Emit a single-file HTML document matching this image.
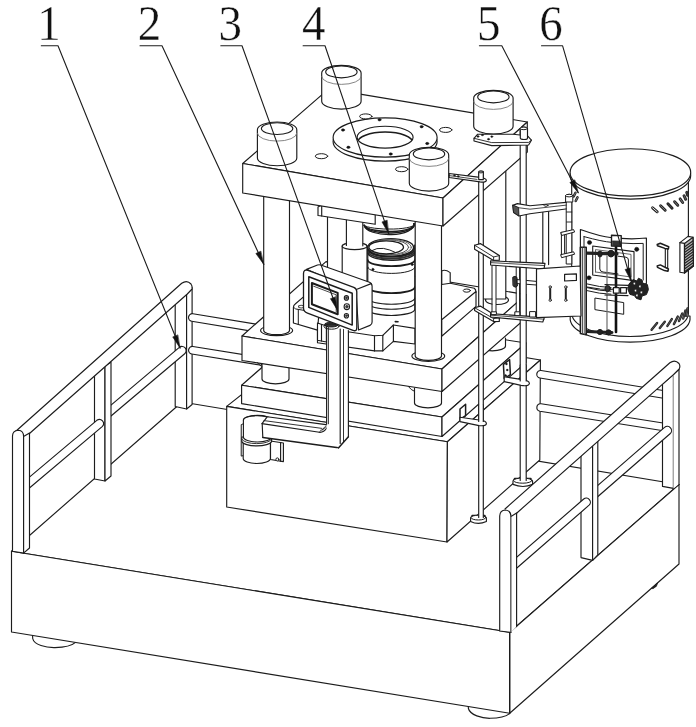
<!DOCTYPE html>
<html lang="en">
<head>
<meta charset="utf-8">
<title>Figure</title>
<style>
html,body{margin:0;padding:0;background:#fff;}
body{width:696px;height:727px;overflow:hidden;position:relative;font-family:"Liberation Serif",serif;}
svg{display:block;position:absolute;left:0;top:0;}
svg text{font-family:"Liberation Serif",serif;fill:#111;}
</style>
</head>
<body>
<svg width="696" height="727" viewBox="0 0 696 727" stroke-linecap="round" stroke-linejoin="round">
<rect x="0" y="0" width="696" height="727" fill="#fff"/>
<!-- platform feet -->
<path d="M32.5,634 L32.7,638.5 C34,645 46,647.8 55,647.6 C65,647.4 72,645.6 75.5,642.4 L76,636 Z" fill="#fff" stroke="#1c1c1c" stroke-width="1.15" />
<path d="M468.2,704 L468.4,708.5 C470,715 482,718.4 490,718.3 C500,718.2 506,716.5 509.6,713.6 L500,700 Z" fill="#fff" stroke="#1c1c1c" stroke-width="1.15" />
<!-- platform -->
<polygon points="11.5,551.2 509.7,632.3 679,484.5 182,402" fill="#fff" stroke="#1c1c1c" stroke-width="1.15"/>
<polygon points="11.5,551.2 509.7,632.3 509.7,713.3 11.5,632" fill="#fff" stroke="#1c1c1c" stroke-width="1.15"/>
<polygon points="509.7,632.3 679,484.5 679,564 509.7,713.3" fill="#fff" stroke="#1c1c1c" stroke-width="1.15"/>
<path d="M651.6,588.2 L657.6,583 L656.4,586.2 L653.4,588.4 Z" fill="#222" stroke="#1c1c1c" stroke-width="0.8" />
<!-- left fence -->
<polygon points="175.2,300 186.6,292 186.6,409 175.2,406.5" fill="#fff" stroke="#1c1c1c" stroke-width="1.15"/>
<polygon points="186.6,292 192.1,287.5 192.1,404.5 186.6,409" fill="#fff" stroke="#1c1c1c" stroke-width="1.15"/>
<path d="M105.68,420.47 L184.68,353.77 A4.15,4.15 0 0 0 179.32,347.43 L100.32,414.13 " fill="#fff" stroke="#1c1c1c" stroke-width="1.15" />
<polygon points="94.5,372 105,366 105,481 94.5,479" fill="#fff" stroke="#1c1c1c" stroke-width="1.15"/>
<polygon points="105,366 111,362 111,476 105,481" fill="#fff" stroke="#1c1c1c" stroke-width="1.15"/>
<path d="M24.67,491.97 L102.17,426.67 A4.15,4.15 0 0 0 96.83,420.33 L19.33,485.63 " fill="#fff" stroke="#1c1c1c" stroke-width="1.15" />
<path d="M15.5,431.5 L181.7,283.3 Q187,279.5 191,284 Q192.6,286 192.1,289 L187.3,294 L29.5,433.5 Z" fill="#fff" stroke="#1c1c1c" stroke-width="0" />
<path d="M15.5,431.5 L181.7,283.3 Q187,279.5 191,284 Q192.6,286 192.1,289 L187.3,294 L29.5,433.5" fill="none" stroke="#1c1c1c" stroke-width="1.15" />
<path d="M12.5,551.2 L12.5,436 Q12.6,430.4 18.4,430.2 Q23.6,430.6 23.6,436.5 L23.6,553.1 Z" fill="#fff" stroke="#1c1c1c" stroke-width="1.15" />
<polygon points="23.6,436.5 29.5,433 29.5,548 23.6,553.1" fill="#fff" stroke="#1c1c1c" stroke-width="1.15"/>
<!-- back rails left -->
<path d="M191.68,321.25 L261.38,332.75 L262.62,325.25 L192.92,313.75 A3.8,3.8 0 0 0 191.68,321.25 Z" fill="#fff" stroke="#1c1c1c" stroke-width="1.15" />
<path d="M191.69,353.95 L261.39,365.25 L262.61,357.75 L192.91,346.45 A3.8,3.8 0 0 0 191.69,353.95 Z" fill="#fff" stroke="#1c1c1c" stroke-width="1.15" />
<!-- base box -->
<polygon points="226.7,406.4 447.4,441.8 540.4,360 330,325" fill="#fff" stroke="#1c1c1c" stroke-width="1.15"/>
<polygon points="226.7,406.4 447.4,441.8 447,542 226.7,507" fill="#fff" stroke="#1c1c1c" stroke-width="1.15"/>
<polygon points="447.4,441.8 540.4,360 539.8,460 447,542" fill="#fff" stroke="#1c1c1c" stroke-width="1.15"/>
<!-- back rails right -->
<path d="M539.89,378.05 L663.39,398.25 L664.61,390.75 L541.11,370.55 A3.8,3.8 0 0 0 539.89,378.05 Z" fill="#fff" stroke="#1c1c1c" stroke-width="1.15" />
<path d="M539.91,411.25 L663.41,430.75 L664.59,423.25 L541.09,403.75 A3.8,3.8 0 0 0 539.91,411.25 Z" fill="#fff" stroke="#1c1c1c" stroke-width="1.15" />
<!-- plate A -->
<polygon points="241.6,385.2 442,417 526,343 325.5,312" fill="#fff" stroke="#1c1c1c" stroke-width="1.15"/>
<polygon points="241.6,385.2 442,417 442,436.5 241.6,403.6" fill="#fff" stroke="#1c1c1c" stroke-width="1.15"/>
<polygon points="442,417 526,343 526,362.5 442,436.5" fill="#fff" stroke="#1c1c1c" stroke-width="1.15"/>
<path d="M262,362 L262,379 A13.5,4.8 0 0 0 289,379 L289,362" fill="#fff" stroke="#1c1c1c" stroke-width="1.15" />
<path d="M414.5,388 L414.5,403 A13.5,4.8 0 0 0 441.5,403 L441.5,388" fill="#fff" stroke="#1c1c1c" stroke-width="1.15" />
<path d="M479,338 L479,346 A13.25,4.8 0 0 0 505.5,346 L505.5,338" fill="#fff" stroke="#1c1c1c" stroke-width="1.15" />
<!-- plate B -->
<polygon points="242,336 442,369 526,294.6 326,261.6" fill="#fff" stroke="#1c1c1c" stroke-width="1.15"/>
<polygon points="242,336 442,369 442,391.5 242,360.5" fill="#fff" stroke="#1c1c1c" stroke-width="1.15"/>
<polygon points="442,369 526,294.6 526,318 442,391.5" fill="#fff" stroke="#1c1c1c" stroke-width="1.15"/>
<path d="M257.4,362.6 Q259.4,365.6 262,366.6" fill="none" stroke="#1c1c1c" stroke-width="1" />
<path d="M408.4,386.6 Q411,390 414.5,391.4" fill="none" stroke="#1c1c1c" stroke-width="1" />
<!-- die holder -->
<polygon points="450.2,283.3 474.3,288.3 476,292 441.7,319.8 415,328.4 415,300" fill="#fff" stroke="#1c1c1c" stroke-width="0"/>
<path d="M450.2,283.3 L474.3,288.3 Q476,289.5 476,292.3" fill="none" stroke="#1c1c1c" stroke-width="1.15" />
<polygon points="441.7,319.8 476,291.5 476,306.4 441.7,336.2" fill="#fff" stroke="#1c1c1c" stroke-width="1.15"/>
<ellipse cx="466.8" cy="290.6" rx="3.6" ry="1.6" fill="#fff" stroke="#1c1c1c" stroke-width="1" />
<path d="M441.7,284.5 L441.7,271 Q445,269 450.2,272.6 L450.2,283.3 Z" fill="#fff" stroke="#1c1c1c" stroke-width="1.15" />
<path d="M293.4,323 L293.4,307.6 Q293.4,305.3 295.2,304 L303.8,296.6 L320,301 L317.5,330.1 Z" fill="#fff" stroke="#1c1c1c" stroke-width="1.15" />
<line x1="298.3" y1="309.4" x2="298.3" y2="324.4" stroke="#1c1c1c" stroke-width="1"/>
<path d="M293.6,307.4 Q295.5,309.6 298.3,309.4 L304,310.4" fill="none" stroke="#1c1c1c" stroke-width="1" />
<ellipse cx="301.2" cy="306.6" rx="2.7" ry="1.4" fill="#fff" stroke="#444" stroke-width="1.1" />
<polygon points="317.5,327.3 374.5,335.7 382.8,335.3 393.4,325 415,328.4 415,344 393.4,341.4 382.8,350.9 374.5,350.9 317.5,342.7" fill="#fff" stroke="#1c1c1c" stroke-width="1.15"/>
<polyline points="374.5,335.7 374.5,350.9" fill="none" stroke="#1c1c1c" stroke-width="1.15"/>
<polyline points="382.8,335.3 382.8,350.9" fill="none" stroke="#1c1c1c" stroke-width="1.15"/>
<polyline points="393.4,325 393.4,341.4" fill="none" stroke="#1c1c1c" stroke-width="1.15"/>
<line x1="395.3" y1="321.6" x2="398" y2="321.8" stroke="#1c1c1c" stroke-width="1.6"/>
<!-- lower die -->
<path d="M367.8,248 L367.8,309.3 A23.5,6.2 0 0 0 414.8,309.3 L414.8,248 Z" fill="#fff" stroke="#1c1c1c" stroke-width="1.15" />
<path d="M367.8,260 A23.5,6.2 0 0 0 414.8,260" fill="none" stroke="#1c1c1c" stroke-width="1.7" />
<path d="M367.8,267.2 A23.5,6.2 0 0 0 414.8,267.2" fill="none" stroke="#1c1c1c" stroke-width="1" />
<path d="M367.8,287 A23.5,6.2 0 0 0 414.8,287" fill="none" stroke="#1c1c1c" stroke-width="1.7" />
<path d="M367.8,298.1 A23.5,6.2 0 0 0 414.8,298.1" fill="none" stroke="#1c1c1c" stroke-width="1.1" />
<path d="M367.8,303.1 A23.5,6.2 0 0 0 414.8,303.1" fill="none" stroke="#1c1c1c" stroke-width="1.1" />
<path d="M367.8,246.4 A23.5,7.6 0 0 0 414.8,245.2" fill="none" stroke="#222" stroke-width="1.5" />
<path d="M367.8,248 A23.5,7.6 0 0 0 414.8,246.8" fill="none" stroke="#333" stroke-width="1.8" />
<path d="M367.8,249.8 A23.5,7.6 0 0 0 414.8,248.6" fill="none" stroke="#222" stroke-width="1.9" />
<path d="M367.8,251.6 A23.5,7.6 0 0 0 414.8,250.4" fill="none" stroke="#333" stroke-width="1.8" />
<path d="M367.8,253.2 A23.5,7.6 0 0 0 414.8,252" fill="none" stroke="#222" stroke-width="1.4" />
<ellipse cx="372.9" cy="269.4" rx="1.1" ry="1.2" fill="#111" stroke="#1c1c1c" stroke-width="0.5" />
<ellipse cx="412.2" cy="264.4" rx="1.1" ry="1.2" fill="#111" stroke="#1c1c1c" stroke-width="0.5" />
<ellipse cx="390.7" cy="247.4" rx="22.9" ry="8.8" fill="#fff" stroke="#1c1c1c" stroke-width="1.4" />
<ellipse cx="390.1" cy="247.3" rx="21.2" ry="8" fill="none" stroke="#666" stroke-width="1" />
<ellipse cx="389.1" cy="247.3" rx="19.6" ry="7.4" fill="none" stroke="#555" stroke-width="1" />
<ellipse cx="386.2" cy="247.3" rx="17.3" ry="6.5" fill="#fff" stroke="#1c1c1c" stroke-width="1.3" />
<path d="M370.4,251.2 Q377,247.4 383.4,248.4 Q390,249.6 395.4,252.4" fill="none" stroke="#1c1c1c" stroke-width="1" />
<!-- back columns -->
<ellipse cx="497" cy="300" rx="11.5" ry="4.5" fill="#fff" stroke="#1c1c1c" stroke-width="1.15" />
<polygon points="480.5,160 505.8,160 505.8,299 480.5,299" fill="#fff" stroke="#1c1c1c" stroke-width="1.15"/>
<polygon points="327.5,200 354,200 354,290 327.5,290" fill="#fff" stroke="#1c1c1c" stroke-width="1.15"/>
<!-- ram -->
<path d="M342.2,246.2 L342.2,281 A12.4,3.4 0 0 0 367,281 L367,246.2 A12.4,3.4 0 0 0 342.2,246.2 Z" fill="#fff" stroke="#1c1c1c" stroke-width="1.15" />
<ellipse cx="354.6" cy="246.2" rx="12.4" ry="3.4" fill="#fff" stroke="#1c1c1c" stroke-width="1.15" />
<polygon points="346.4,215 362.8,215 362.8,245.6 346.4,245.6" fill="#fff" stroke="#1c1c1c" stroke-width="0"/>
<line x1="346.4" y1="218" x2="346.4" y2="245.4" stroke="#1c1c1c" stroke-width="1.15"/>
<line x1="362.8" y1="220" x2="362.8" y2="245.8" stroke="#1c1c1c" stroke-width="1.15"/>
<!-- upper die -->
<path d="M364.2,214 L364.2,225.5 A24.9,10 0 0 0 414,223.5 L414,214 Z" fill="#fff" stroke="#1c1c1c" stroke-width="0" />
<path d="M364.2,225.3 A24.9,4.6 0 0 0 414,223.6" fill="none" stroke="#1c1c1c" stroke-width="1" />
<path d="M364.2,225.3 A24.9,7 0 0 0 414,223.6" fill="none" stroke="#1c1c1c" stroke-width="1.4" />
<path d="M364.2,225.3 A24.9,8.6 0 0 0 414,223.6" fill="none" stroke="#1c1c1c" stroke-width="1.5" />
<path d="M364.2,225.3 A24.9,10.2 0 0 0 414,223.6" fill="none" stroke="#1c1c1c" stroke-width="1.3" />
<!-- bracket plate under top plate -->
<polygon points="318,207 321.7,205 375.2,214 375.2,224.3 321.7,216 318,215.5" fill="#fff" stroke="#1c1c1c" stroke-width="1.15"/>
<line x1="321.7" y1="206" x2="321.7" y2="216" stroke="#1c1c1c" stroke-width="1.15"/>
<!-- front columns -->
<ellipse cx="276.6" cy="330.5" rx="16" ry="5.2" fill="#fff" stroke="#1c1c1c" stroke-width="1.15" />
<ellipse cx="428.3" cy="356" rx="16.4" ry="5.4" fill="#fff" stroke="#1c1c1c" stroke-width="1.15" />
<path d="M263.7,190 L263.7,330.5 A12.9,4.2 0 0 0 289.5,330.5 L289.5,190" fill="#fff" stroke="#1c1c1c" stroke-width="1.15" />
<path d="M415.2,215 L415.2,356 A13.15,4.4 0 0 0 441.5,356 L441.5,215" fill="#fff" stroke="#1c1c1c" stroke-width="1.15" />
<!-- top plate -->
<polygon points="242.7,163.5 443,198 527.3,122 328.7,88.9" fill="#fff" stroke="#1c1c1c" stroke-width="1.15"/>
<polygon points="242.7,163.5 443,198 443,226 242.7,193" fill="#fff" stroke="#1c1c1c" stroke-width="1.15"/>
<polygon points="443,198 527.3,122 527.3,152 443,226" fill="#fff" stroke="#1c1c1c" stroke-width="1.15"/>
<!-- flange -->
<ellipse cx="385.1" cy="141.5" rx="52" ry="19.6" fill="#fff" stroke="#1c1c1c" stroke-width="1.15" />
<ellipse cx="385.1" cy="137.5" rx="52" ry="19.6" fill="#fff" stroke="#1c1c1c" stroke-width="1.15" />
<ellipse cx="385.1" cy="137.2" rx="28" ry="10.9" fill="#fff" stroke="#1c1c1c" stroke-width="1.15" />
<clipPath id="cflange"><ellipse cx="385.1" cy="137.2" rx="28" ry="10.9"/></clipPath>
<ellipse cx="385.1" cy="143" rx="27.8" ry="10.9" fill="none" stroke="#1c1c1c" stroke-width="1.5" clip-path="url(#cflange)"/>
<ellipse cx="379.5" cy="119.8" rx="1.6" ry="1.2" fill="#111" stroke="#1c1c1c" stroke-width="0.5" />
<ellipse cx="421.6" cy="126.7" rx="1.6" ry="1.2" fill="#111" stroke="#1c1c1c" stroke-width="0.5" />
<ellipse cx="427.2" cy="143.5" rx="1.6" ry="1.2" fill="#111" stroke="#1c1c1c" stroke-width="0.5" />
<ellipse cx="390.7" cy="154" rx="1.6" ry="1.2" fill="#111" stroke="#1c1c1c" stroke-width="0.5" />
<ellipse cx="348.4" cy="147.3" rx="1.6" ry="1.2" fill="#111" stroke="#1c1c1c" stroke-width="0.5" />
<ellipse cx="343" cy="130" rx="1.6" ry="1.2" fill="#111" stroke="#1c1c1c" stroke-width="0.5" />
<ellipse cx="365.8" cy="116.4" rx="6.2" ry="2.5" fill="#fff" stroke="#1c1c1c" stroke-width="1" />
<ellipse cx="445.7" cy="129.9" rx="6.2" ry="2.5" fill="#fff" stroke="#1c1c1c" stroke-width="1" />
<ellipse cx="401.7" cy="169.2" rx="6.2" ry="2.5" fill="#fff" stroke="#1c1c1c" stroke-width="1" />
<ellipse cx="321.5" cy="156.2" rx="6.2" ry="2.5" fill="#fff" stroke="#1c1c1c" stroke-width="1" />
<!-- top cylinders -->
<path d="M321.7,73.1 L321.7,101.3 A19.7,7.8 0 0 0 361.1,101.3 L361.1,73.1 A19.7,7.8 0 0 0 321.7,73.1 Z" fill="#fff" stroke="#1c1c1c" stroke-width="1.15" />
<path d="M321.7,76.6 A19.7,7.8 0 0 0 361.1,76.6" fill="none" stroke="#777" stroke-width="0.9" />
<ellipse cx="341.4" cy="71.9" rx="15.7" ry="5.9" fill="#fff" stroke="#1c1c1c" stroke-width="1.15" />
<path d="M473.7,98.1 L473.7,126.3 A19.7,7.8 0 0 0 513.1,126.3 L513.1,98.1 A19.7,7.8 0 0 0 473.7,98.1 Z" fill="#fff" stroke="#1c1c1c" stroke-width="1.15" />
<path d="M473.7,101.6 A19.7,7.8 0 0 0 513.1,101.6" fill="none" stroke="#777" stroke-width="0.9" />
<ellipse cx="493.4" cy="96.9" rx="15.7" ry="5.9" fill="#fff" stroke="#1c1c1c" stroke-width="1.15" />
<path d="M257.4,129.8 L257.4,158 A19.7,7.8 0 0 0 296.8,158 L296.8,129.8 A19.7,7.8 0 0 0 257.4,129.8 Z" fill="#fff" stroke="#1c1c1c" stroke-width="1.15" />
<path d="M257.4,133.3 A19.7,7.8 0 0 0 296.8,133.3" fill="none" stroke="#777" stroke-width="0.9" />
<ellipse cx="277.1" cy="128.6" rx="15.7" ry="5.9" fill="#fff" stroke="#1c1c1c" stroke-width="1.15" />
<path d="M409.3,155.1 L409.3,183.3 A19.7,7.8 0 0 0 448.7,183.3 L448.7,155.1 A19.7,7.8 0 0 0 409.3,155.1 Z" fill="#fff" stroke="#1c1c1c" stroke-width="1.15" />
<path d="M409.3,158.6 A19.7,7.8 0 0 0 448.7,158.6" fill="none" stroke="#777" stroke-width="0.9" />
<ellipse cx="429" cy="153.9" rx="15.7" ry="5.9" fill="#fff" stroke="#1c1c1c" stroke-width="1.15" />
<!-- hinge and arm -->
<polygon points="270.5,441 283.4,443 283.4,461.6 270.5,459.5" fill="#fff" stroke="#1c1c1c" stroke-width="1.15"/>
<line x1="280.6" y1="442.6" x2="280.6" y2="461.2" stroke="#1c1c1c" stroke-width="1.15"/>
<ellipse cx="277.4" cy="459.4" rx="1.5" ry="1.5" fill="#fff" stroke="#1c1c1c" stroke-width="1" />
<polygon points="241.6,424.5 244,423.5 244,455.5 241.6,456" fill="#fff" stroke="#1c1c1c" stroke-width="1"/>
<path d="M243.2,441 L243.2,458.5 A13.6,5 0 0 0 270.4,458.5 L270.4,441" fill="#fff" stroke="#1c1c1c" stroke-width="1.15" />
<path d="M241.8,437 L241.8,441.5 A15,5 0 0 0 271.6,441.5 L271.6,437 Z" fill="#fff" stroke="#1c1c1c" stroke-width="1.15" />
<path d="M241.8,439.2 A15,5 0 0 0 271.6,439.2" fill="none" stroke="#1c1c1c" stroke-width="0.9" />
<path d="M243.4,420 L243.4,437 A14,5 0 0 0 271.4,437 L271.4,420 A14,4.6 0 0 0 243.4,420 Z" fill="#fff" stroke="#1c1c1c" stroke-width="1.15" />
<path d="M243.4,420 A14,4.6 0 0 1 266,416.6" fill="none" stroke="#1c1c1c" stroke-width="1.15" />
<path d="M262,423.6 L267.2,416.8 L326,424.6 L348.4,428 L348.4,436.8 L338.4,447.9 L262.8,437.4 Z" fill="#fff" stroke="#1c1c1c" stroke-width="0" />
<path d="M262,423.6 L267.2,416.8 L326,424.6" fill="none" stroke="#1c1c1c" stroke-width="1.15" />
<line x1="262" y1="423.6" x2="319.4" y2="432.2" stroke="#1c1c1c" stroke-width="1.15"/>
<line x1="262.2" y1="424" x2="262.8" y2="437.4" stroke="#1c1c1c" stroke-width="1.15"/>
<path d="M262.8,437.4 L336.6,447.6 Q339.8,447.4 340.2,443.2" fill="none" stroke="#1c1c1c" stroke-width="1.5" />
<line x1="264" y1="420.6" x2="322" y2="428.4" stroke="#1c1c1c" stroke-width="0.9"/>
<path d="M319.4,432.2 Q323.6,432.6 326.8,428 Q328.4,425.4 328.2,423.6" fill="none" stroke="#1c1c1c" stroke-width="1.3" />
<path d="M320.6,430.4 Q323.6,430.2 325.6,427 Q326.6,425.2 326.6,424.4" fill="none" stroke="#1c1c1c" stroke-width="0.9" />
<line x1="322.4" y1="430" x2="324.6" y2="427" stroke="#1c1c1c" stroke-width="0.8"/>
<polygon points="326.6,327 348.4,330.5 348.4,436.8 338.4,447.9 326.6,432" fill="#fff" stroke="#1c1c1c" stroke-width="0"/>
<line x1="326.6" y1="327" x2="326.6" y2="424.2" stroke="#1c1c1c" stroke-width="1.15"/>
<line x1="328.4" y1="327.5" x2="328.4" y2="423.8" stroke="#1c1c1c" stroke-width="0.9"/>
<line x1="340.2" y1="329" x2="340.2" y2="443.4" stroke="#1c1c1c" stroke-width="1.15"/>
<line x1="343.5" y1="329.5" x2="343.5" y2="442.2" stroke="#1c1c1c" stroke-width="0.9"/>
<line x1="348.4" y1="330.5" x2="348.4" y2="436.8" stroke="#1c1c1c" stroke-width="1.15"/>
<polyline points="338.4,447.9 348.4,436.8" fill="none" stroke="#1c1c1c" stroke-width="1.5"/>
<!-- controller -->
<path d="M317.5,323 L317.5,340.3 L326.4,342 L326.4,326 Z" fill="#fff" stroke="#1c1c1c" stroke-width="1.15" />
<line x1="321.5" y1="324.5" x2="321.5" y2="341" stroke="#1c1c1c" stroke-width="1.15"/>
<ellipse cx="331.5" cy="324.6" rx="7" ry="2.4" fill="#333" stroke="#1c1c1c" stroke-width="1" />
<ellipse cx="331.5" cy="326.6" rx="7.5" ry="2.6" fill="none" stroke="#1c1c1c" stroke-width="1" />
<path d="M306.5,269.4 L317.5,265 Q319.5,264.4 321.5,265.2 L369.5,282.3 Q372.1,283.5 372.1,286.3 L372.1,322 Q372.1,324.6 370,325.4 L358.5,330 L356,291 Z" fill="#fff" stroke="#1c1c1c" stroke-width="1.15" />
<path d="M303.5,273.5 Q303.5,269 308,270.3 L353.8,287.3 Q356.8,288.6 356.8,291.8 L356.8,327.6 Q356.8,331.8 353,330.4 L307.5,313.2 Q303.5,311.6 303.5,308 Z" fill="#fff" stroke="#1c1c1c" stroke-width="1.3" />
<path d="M356.3,289.5 L371.2,283.6" fill="none" stroke="#1c1c1c" stroke-width="1.15" />
<polygon points="308.8,276.7 352.2,293.3 352.2,325.1 308.8,307.4" fill="#fff" stroke="#1c1c1c" stroke-width="1.5"/>
<polygon points="311.9,283 337.7,292.9 337.7,314.2 311.9,304.3" fill="#fff" stroke="#1c1c1c" stroke-width="2"/>
<polyline points="313.6,286.2 336.2,294.8 336.2,311.6" fill="none" stroke="#1c1c1c" stroke-width="0.8"/>
<ellipse cx="346.4" cy="297.9" rx="2.1" ry="2.268" fill="#fff" stroke="#1c1c1c" stroke-width="1.1" />
<ellipse cx="346.4" cy="297.9" rx="0.945" ry="1.05" fill="#444" stroke="#1c1c1c" stroke-width="0.6" />
<ellipse cx="346.8" cy="306.7" rx="2.7" ry="2.916" fill="#fff" stroke="#1c1c1c" stroke-width="1.1" />
<ellipse cx="346.8" cy="306.7" rx="1.215" ry="1.35" fill="#444" stroke="#1c1c1c" stroke-width="0.6" />
<ellipse cx="346.4" cy="315.7" rx="2.1" ry="2.268" fill="#fff" stroke="#1c1c1c" stroke-width="1.1" />
<ellipse cx="346.4" cy="315.7" rx="0.945" ry="1.05" fill="#444" stroke="#1c1c1c" stroke-width="0.6" />
<!-- barrel -->
<path d="M570.2,316 L570.2,319.8 A60,23.7 0 0 0 690,319.8 L690,316 Z" fill="#fff" stroke="#1c1c1c" stroke-width="1.15" />
<path d="M571.7,176 L571.7,314 A58.4,23.5 0 0 0 688.4,314 L688.4,176 Z" fill="#fff" stroke="#1c1c1c" stroke-width="1.15" />
<ellipse cx="630.4" cy="175.4" rx="60.3" ry="23.7" fill="#fff" stroke="#1c1c1c" stroke-width="1.15" />
<ellipse cx="630.4" cy="172.4" rx="60.3" ry="23.7" fill="#fff" stroke="#1c1c1c" stroke-width="1.15" />
<line x1="652.6" y1="207.8" x2="657.2" y2="211.8" stroke="#222" stroke-width="2.9" stroke-linecap="round"/>
<line x1="652.6" y1="207.8" x2="657.2" y2="211.8" stroke="#fff" stroke-width="0.9" stroke-linecap="round"/>
<line x1="660.6" y1="205.7" x2="665.2" y2="210.2" stroke="#222" stroke-width="2.9" stroke-linecap="round"/>
<line x1="660.6" y1="205.7" x2="665.2" y2="210.2" stroke="#888" stroke-width="0.9" stroke-linecap="round"/>
<line x1="667.9" y1="203.7" x2="672.1" y2="208.2" stroke="#222" stroke-width="2.9" stroke-linecap="round"/>
<line x1="667.9" y1="203.7" x2="672.1" y2="208.2" stroke="#444" stroke-width="0.9" stroke-linecap="round"/>
<line x1="674.6" y1="201.7" x2="677.8" y2="205.3" stroke="#222" stroke-width="2.9" stroke-linecap="round"/>
<line x1="674.6" y1="201.7" x2="677.8" y2="205.3" stroke="#888" stroke-width="0.9" stroke-linecap="round"/>
<line x1="680.1" y1="198.9" x2="682.7" y2="202.5" stroke="#222" stroke-width="2.9" stroke-linecap="round"/>
<line x1="680.1" y1="198.9" x2="682.7" y2="202.5" stroke="#888" stroke-width="0.9" stroke-linecap="round"/>
<line x1="684" y1="195.7" x2="685.7" y2="199.3" stroke="#222" stroke-width="2.9" stroke-linecap="round"/>
<line x1="684" y1="195.7" x2="685.7" y2="199.3" stroke="#666" stroke-width="0.9" stroke-linecap="round"/>
<line x1="686.7" y1="192.3" x2="687.6" y2="195.3" stroke="#222" stroke-width="2.9" stroke-linecap="round"/>
<line x1="686.7" y1="192.3" x2="687.6" y2="195.3" stroke="#444" stroke-width="0.9" stroke-linecap="round"/>
<line x1="573.7" y1="196.4" x2="575.5" y2="192.8" stroke="#222" stroke-width="2.5" stroke-linecap="round"/>
<line x1="573.7" y1="196.4" x2="575.5" y2="192.8" stroke="#999" stroke-width="0.7" stroke-linecap="round"/>
<line x1="575.7" y1="201" x2="577.5" y2="197.4" stroke="#222" stroke-width="2.5" stroke-linecap="round"/>
<line x1="575.7" y1="201" x2="577.5" y2="197.4" stroke="#999" stroke-width="0.7" stroke-linecap="round"/>
<line x1="651.6" y1="329.8" x2="657.1" y2="323" stroke="#222" stroke-width="2.4" stroke-linecap="round"/>
<line x1="651.6" y1="329.8" x2="657.1" y2="323" stroke="#777" stroke-width="0.6" stroke-linecap="round"/>
<line x1="659.8" y1="328.1" x2="664.8" y2="321.7" stroke="#222" stroke-width="2.4" stroke-linecap="round"/>
<line x1="659.8" y1="328.1" x2="664.8" y2="321.7" stroke="#777" stroke-width="0.6" stroke-linecap="round"/>
<line x1="667.4" y1="325.9" x2="671.8" y2="319.1" stroke="#222" stroke-width="2.4" stroke-linecap="round"/>
<line x1="667.4" y1="325.9" x2="671.8" y2="319.1" stroke="#777" stroke-width="0.6" stroke-linecap="round"/>
<line x1="673.9" y1="324.1" x2="677.8" y2="316.6" stroke="#222" stroke-width="2.4" stroke-linecap="round"/>
<line x1="673.9" y1="324.1" x2="677.8" y2="316.6" stroke="#777" stroke-width="0.6" stroke-linecap="round"/>
<line x1="679" y1="321.1" x2="682.3" y2="313.6" stroke="#222" stroke-width="2.4" stroke-linecap="round"/>
<line x1="679" y1="321.1" x2="682.3" y2="313.6" stroke="#777" stroke-width="0.6" stroke-linecap="round"/>
<line x1="683.2" y1="318.5" x2="685.4" y2="310.6" stroke="#222" stroke-width="2.4" stroke-linecap="round"/>
<line x1="683.2" y1="318.5" x2="685.4" y2="310.6" stroke="#777" stroke-width="0.6" stroke-linecap="round"/>
<line x1="686.1" y1="315.9" x2="687.5" y2="308.4" stroke="#222" stroke-width="2.4" stroke-linecap="round"/>
<line x1="686.1" y1="315.9" x2="687.5" y2="308.4" stroke="#777" stroke-width="0.6" stroke-linecap="round"/>
<polygon points="665.3,248 667.7,248.4 667.7,268.6 665.3,268" fill="#fff" stroke="#1c1c1c" stroke-width="1.1"/>
<polygon points="657.2,244.5 660.3,243.3 668.7,246.8 668.4,248.9 664.9,248.4 657.5,245.8" fill="#fff" stroke="#1c1c1c" stroke-width="1.5"/>
<polygon points="657.2,266 660.3,264.9 668.4,269 668,271.2 664.5,270.6 657.5,267.4" fill="#fff" stroke="#1c1c1c" stroke-width="1.5"/>
<polygon points="679.9,242.6 688,236.4 693,237.2 693.4,266 684.5,273 679.9,272.2" fill="#fff" stroke="#1c1c1c" stroke-width="1.15"/>
<polygon points="684.5,243.4 693,237.2 693.4,266 684.5,273" fill="#bbb" stroke="#1c1c1c" stroke-width="1.2"/>
<polyline points="679.9,242.6 684.5,243.4 684.5,273" fill="none" stroke="#1c1c1c" stroke-width="1.15"/>
<line x1="685.2" y1="246.4" x2="692.8" y2="241" stroke="#222" stroke-width="1.25"/>
<line x1="685.2" y1="249.15" x2="692.8" y2="243.75" stroke="#222" stroke-width="1.25"/>
<line x1="685.2" y1="251.9" x2="692.8" y2="246.5" stroke="#222" stroke-width="1.25"/>
<line x1="685.2" y1="254.65" x2="692.8" y2="249.25" stroke="#222" stroke-width="1.25"/>
<line x1="685.2" y1="257.4" x2="692.8" y2="252" stroke="#222" stroke-width="1.25"/>
<line x1="685.2" y1="260.15" x2="692.8" y2="254.75" stroke="#222" stroke-width="1.25"/>
<line x1="685.2" y1="262.9" x2="692.8" y2="257.5" stroke="#222" stroke-width="1.25"/>
<line x1="685.2" y1="265.65" x2="692.8" y2="260.25" stroke="#222" stroke-width="1.25"/>
<line x1="685.2" y1="268.4" x2="692.8" y2="263" stroke="#222" stroke-width="1.25"/>
<line x1="685.2" y1="271.15" x2="692.8" y2="265.75" stroke="#222" stroke-width="1.25"/>
<path d="M580.4,229.5 Q600,236.5 612,237.8 L621,238.4 Q634,239.4 646.4,238 L646.4,283.5 Q620,291 600,289 L580.4,286 Z" fill="#fff" stroke="#1c1c1c" stroke-width="1.15" />
<path d="M584,236.6 Q602,241.6 612,242.4 L621,243 Q634,244 643.2,243.4 L643.2,280" fill="none" stroke="#1c1c1c" stroke-width="1" />
<path d="M584,236.6 L584,248" fill="none" stroke="#1c1c1c" stroke-width="1" />
<ellipse cx="589.5" cy="242.5" rx="2.1" ry="2.1" fill="#111" stroke="#1c1c1c" stroke-width="0.5" />
<ellipse cx="636.7" cy="249.3" rx="2.1" ry="2.1" fill="#111" stroke="#1c1c1c" stroke-width="0.5" />
<ellipse cx="589" cy="277.8" rx="2.1" ry="2.1" fill="#111" stroke="#1c1c1c" stroke-width="0.5" />
<polyline points="592.7,275 592.7,246 634,251.6 634,280.6 592.7,275" fill="none" stroke="#1c1c1c" stroke-width="1.1"/>
<polyline points="595.5,272 595.5,249.6 631,254.4 631,277 595.5,272" fill="none" stroke="#555" stroke-width="0.9"/>
<path d="M599.8,257.4 L599.8,269 Q600,271.6 603,272 L618,274" fill="none" stroke="#1c1c1c" stroke-width="1" />
<path d="M618,256.2 L626,257.2 Q628.4,257.6 628.4,260 L628.4,272" fill="none" stroke="#1c1c1c" stroke-width="1" />
<path d="M586.9,283.9 Q600,287.3 611,287.5" fill="none" stroke="#1c1c1c" stroke-width="1" />
<path d="M586.9,287.6 Q600,291 611,291.2" fill="none" stroke="#1c1c1c" stroke-width="1" />
<path d="M586.9,290.6 Q600,294 611,294.2" fill="none" stroke="#1c1c1c" stroke-width="1" />
<polygon points="595.3,298.1 623.7,302.6 623.7,314.3 595.3,309.7" fill="#fff" stroke="#1c1c1c" stroke-width="1"/>
<line x1="607" y1="256" x2="607" y2="330" stroke="#777" stroke-width="1.3"/>
<line x1="616" y1="246" x2="616" y2="332" stroke="#111" stroke-width="2.6"/>
<line x1="586.5" y1="253.2" x2="617" y2="253.8" stroke="#222" stroke-width="3.2"/>
<polygon points="611.5,235.3 621.2,235.6 621.2,246.3 611.5,246" fill="#fff" stroke="#1c1c1c" stroke-width="1.4"/>
<polygon points="612.6,241 620.2,241.2 620.2,245.6 612.6,245.4" fill="#333" stroke="#1c1c1c" stroke-width="0.8"/>
<ellipse cx="600" cy="254" rx="2.2" ry="3" fill="#222" stroke="#1c1c1c" stroke-width="1" />
<ellipse cx="611" cy="253.6" rx="3" ry="3.4" fill="#222" stroke="#1c1c1c" stroke-width="1" />
<line x1="586.5" y1="331.5" x2="612" y2="332.5" stroke="#222" stroke-width="3"/>
<ellipse cx="600" cy="332" rx="2.6" ry="2.6" fill="#222" stroke="#1c1c1c" stroke-width="1" />
<ellipse cx="608.6" cy="332.4" rx="2.6" ry="2.6" fill="#222" stroke="#1c1c1c" stroke-width="1" />
<polygon points="613.4,287.7 619.2,287.7 619.2,293.2 613.4,293.2" fill="#fff" stroke="#1c1c1c" stroke-width="1.2"/>
<polygon points="620.6,287.7 626.4,287.7 626.4,293.2 620.6,293.2" fill="#fff" stroke="#1c1c1c" stroke-width="1.2"/>
<ellipse cx="607.6" cy="288.6" rx="2.6" ry="3" fill="#333" stroke="#1c1c1c" stroke-width="1" />
<line x1="605" y1="284.6" x2="628" y2="285.4" stroke="#1c1c1c" stroke-width="1.2"/>
<line x1="605" y1="295" x2="628" y2="295.6" stroke="#1c1c1c" stroke-width="1.2"/>
<path d="M629,284 L633,279.6 L637,281 L638.5,278.2 L642,280 L643,283.4 L647.4,284.6 L648.4,289.6 L646.4,294.6 L642,296 L641,299.8 L636.4,298.4 L634.4,295.6 L630,294.4 L628,289.6 Z" fill="#222" stroke="#1c1c1c" stroke-width="1" />
<ellipse cx="634.4" cy="283.6" rx="1.1" ry="1.1" fill="#fff" stroke="#1c1c1c" stroke-width="0.3" />
<ellipse cx="640" cy="286.4" rx="1.1" ry="1.1" fill="#fff" stroke="#1c1c1c" stroke-width="0.3" />
<ellipse cx="635.6" cy="290.6" rx="1.1" ry="1.1" fill="#fff" stroke="#1c1c1c" stroke-width="0.3" />
<ellipse cx="641.4" cy="292.4" rx="1.1" ry="1.1" fill="#fff" stroke="#1c1c1c" stroke-width="0.3" />
<ellipse cx="637" cy="295.4" rx="1.1" ry="1.1" fill="#fff" stroke="#1c1c1c" stroke-width="0.3" />
<polygon points="580.4,247.2 586.2,247.2 586.2,334.7 580.4,333.5" fill="#fff" stroke="#1c1c1c" stroke-width="1.6"/>
<line x1="582.6" y1="248" x2="582.6" y2="334" stroke="#444" stroke-width="1"/>
<line x1="584.4" y1="248" x2="584.4" y2="334" stroke="#666" stroke-width="0.9"/>
<!-- rods and brackets -->
<line x1="542.8" y1="211" x2="542.8" y2="264" stroke="#1c1c1c" stroke-width="1.15"/>
<line x1="548.6" y1="210" x2="548.6" y2="264.6" stroke="#1c1c1c" stroke-width="1.15"/>
<polygon points="492.4,265 496,265 496,313.4 492.4,313.4" fill="#fff" stroke="#1c1c1c" stroke-width="1"/>
<polygon points="516.6,265 519.6,265 519.6,313.4 516.6,313.4" fill="#fff" stroke="#1c1c1c" stroke-width="1"/>
<path d="M513,277 Q515,275.4 517,277.4 L517.4,286 Q515.4,288.6 513.2,286 Z" fill="#333" stroke="#1c1c1c" stroke-width="1" />
<polygon points="517.4,279.6 536.5,281.4 536.5,285 517.4,283.6" fill="#fff" stroke="#1c1c1c" stroke-width="1"/>
<path d="M470.6,518 L472,515.4 L485,515.4 L486.4,518.4 L486.4,521.6 Q478,525.4 470.6,521.4 Z" fill="#fff" stroke="#1c1c1c" stroke-width="1.15" />
<ellipse cx="478.5" cy="517.6" rx="7.4" ry="2.4" fill="#fff" stroke="#1c1c1c" stroke-width="1" />
<path d="M513,481 L514.6,478.4 L531,478.4 L532.6,481.4 L532.6,484.4 Q523,488.6 513,484.4 Z" fill="#fff" stroke="#1c1c1c" stroke-width="1.15" />
<ellipse cx="522.8" cy="480.6" rx="9.2" ry="2.6" fill="#fff" stroke="#1c1c1c" stroke-width="1" />
<polygon points="478.7,172 483.3,172 483.3,517.4 478.7,517.4" fill="#fff" stroke="#1c1c1c" stroke-width="0"/>
<line x1="478.7" y1="172" x2="478.7" y2="517.4" stroke="#1c1c1c" stroke-width="1.15"/>
<line x1="483.3" y1="172" x2="483.3" y2="517.4" stroke="#1c1c1c" stroke-width="1.15"/>
<polygon points="520.2,130 526.2,130 526.2,480.4 520.2,480.4" fill="#fff" stroke="#1c1c1c" stroke-width="0"/>
<line x1="520.2" y1="130" x2="520.2" y2="480.4" stroke="#1c1c1c" stroke-width="1.15"/>
<line x1="526.2" y1="130" x2="526.2" y2="480.4" stroke="#1c1c1c" stroke-width="1.15"/>
<path d="M474,138.3 L477.7,134.2 L513.2,134.2 L520,135 L528,136.4 L531.4,140.2 L528.6,145 L491.7,145.6 L474,141 Z" fill="#fff" stroke="#1c1c1c" stroke-width="1.15" />
<polyline points="474,138.3 491.7,142.6 528.6,142.4 531.4,140.2" fill="none" stroke="#1c1c1c" stroke-width="0.9"/>
<ellipse cx="478" cy="136.4" rx="1.1" ry="0.9" fill="#111" stroke="#1c1c1c" stroke-width="0.4" />
<ellipse cx="482.4" cy="134.9" rx="1.1" ry="0.9" fill="#111" stroke="#1c1c1c" stroke-width="0.4" />
<ellipse cx="488.5" cy="139.2" rx="1.1" ry="0.9" fill="#111" stroke="#1c1c1c" stroke-width="0.4" />
<ellipse cx="491.8" cy="136.6" rx="1.1" ry="0.9" fill="#111" stroke="#1c1c1c" stroke-width="0.4" />
<path d="M520.3,128.4 L520.3,138.2 A3.6,1.3 0 0 0 527.5,138.2 L527.5,128.4 A3.6,1.3 0 0 0 520.3,128.4 Z" fill="#fff" stroke="#1c1c1c" stroke-width="1.15" />
<ellipse cx="523.9" cy="128.4" rx="3.6" ry="1.3" fill="#fff" stroke="#1c1c1c" stroke-width="1" />
<path d="M449.2,173.5 L478,177.1 Q486.4,178 486.4,180.4 Q486.2,182.6 480,181.9 L449.2,177.5 Z" fill="#fff" stroke="#1c1c1c" stroke-width="1.15" />
<line x1="449.2" y1="175.6" x2="477" y2="179.4" stroke="#1c1c1c" stroke-width="0.8"/>
<ellipse cx="454.4" cy="175.3" rx="1" ry="0.8" fill="#111" stroke="#1c1c1c" stroke-width="0.4" />
<ellipse cx="458.2" cy="176.4" rx="1" ry="0.8" fill="#111" stroke="#1c1c1c" stroke-width="0.4" />
<path d="M478.7,179.6 L478.7,172 A2.3,0.9 0 0 1 483.3,172 L483.3,179.6 Z" fill="#fff" stroke="#1c1c1c" stroke-width="1.15" />
<ellipse cx="481" cy="172" rx="2.3" ry="0.9" fill="#fff" stroke="#1c1c1c" stroke-width="1" />
<polygon points="460,409 465.6,404.2 465.6,415.6 460,419.4" fill="#fff" stroke="#1c1c1c" stroke-width="1.5"/>
<path d="M460,417.2 L479,420 Q486.4,420.6 486.4,423.6 Q486,426.4 479,425.6 L460,421.6 Z" fill="#fff" stroke="#1c1c1c" stroke-width="1.15" />
<polygon points="478.7,405 483.3,405 483.3,421.4 478.7,421.4" fill="#fff" stroke="#1c1c1c" stroke-width="0"/>
<line x1="478.7" y1="405" x2="478.7" y2="421.4" stroke="#1c1c1c" stroke-width="1.15"/>
<line x1="483.3" y1="405" x2="483.3" y2="421.4" stroke="#1c1c1c" stroke-width="1.15"/>
<polygon points="503.4,364.4 509.6,359.6 510.4,374.6 504.2,378.6" fill="#fff" stroke="#1c1c1c" stroke-width="1.5"/>
<ellipse cx="506.4" cy="364" rx="0.9" ry="0.9" fill="#111" stroke="#1c1c1c" stroke-width="0.4" />
<ellipse cx="507.2" cy="370" rx="0.9" ry="0.9" fill="#111" stroke="#1c1c1c" stroke-width="0.4" />
<ellipse cx="505.6" cy="375.4" rx="0.9" ry="0.9" fill="#111" stroke="#1c1c1c" stroke-width="0.4" />
<path d="M504.2,376.8 L521,379.4 Q529.6,380.4 529.4,383.6 Q528.6,386.6 521,385.4 L504.2,381.6 Z" fill="#fff" stroke="#1c1c1c" stroke-width="1.15" />
<polygon points="520.2,365 526.2,365 526.2,381 520.2,381" fill="#fff" stroke="#1c1c1c" stroke-width="0"/>
<line x1="520.2" y1="365" x2="520.2" y2="381" stroke="#1c1c1c" stroke-width="1.15"/>
<line x1="526.2" y1="365" x2="526.2" y2="381" stroke="#1c1c1c" stroke-width="1.15"/>
<polygon points="474.6,307.7 480.3,306.1 499.3,318 499.3,321.4 493.6,321.6 474.6,310.6" fill="#fff" stroke="#1c1c1c" stroke-width="1.15"/>
<polyline points="474.6,307.7 493.6,318.6 499.3,318" fill="none" stroke="#1c1c1c" stroke-width="0.9"/>
<line x1="493.6" y1="318.6" x2="493.6" y2="321.6" stroke="#1c1c1c" stroke-width="0.9"/>
<polygon points="490.6,313.6 544.4,317.4 542.8,322 490.6,317" fill="#fff" stroke="#1c1c1c" stroke-width="1.15"/>
<line x1="490.6" y1="315.2" x2="544" y2="319.2" stroke="#1c1c1c" stroke-width="0.8"/>
<polygon points="491.4,311.8 496.4,311.8 496.4,314.6 491.4,314.6" fill="#fff" stroke="#1c1c1c" stroke-width="1"/>
<polygon points="515.2,311.8 519.8,311.8 519.8,315.6 515.2,315.6" fill="#fff" stroke="#1c1c1c" stroke-width="1"/>
<polygon points="530,311.6 535.6,311.6 535.6,317 530,317" fill="#fff" stroke="#1c1c1c" stroke-width="1"/>
<polygon points="474.6,245.2 480.3,243.6 499.3,255.6 499.3,260.2 493.6,260.4 474.6,249.2" fill="#fff" stroke="#1c1c1c" stroke-width="1.15"/>
<polyline points="474.6,245.2 493.6,257 499.3,255.6" fill="none" stroke="#1c1c1c" stroke-width="0.9"/>
<line x1="493.6" y1="257" x2="493.6" y2="260.4" stroke="#1c1c1c" stroke-width="0.9"/>
<polygon points="490.6,260.8 545,263.4 544,269 490.6,265" fill="#fff" stroke="#1c1c1c" stroke-width="1.15"/>
<line x1="490.6" y1="262.6" x2="544.6" y2="265.6" stroke="#1c1c1c" stroke-width="0.8"/>
<path d="M512.8,205.4 L517.4,203.6 L530,205.8 L571.3,201.9 L571.3,208.2 L530,213.7 L519,216 L513.6,212.4 Z" fill="#fff" stroke="#1c1c1c" stroke-width="1.15" />
<polyline points="512.8,205.4 517.6,207.6 518.6,215.6" fill="none" stroke="#1c1c1c" stroke-width="1"/>
<polyline points="517.6,207.6 530,209.2 571,204.6" fill="none" stroke="#1c1c1c" stroke-width="0.8"/>
<path d="M512.8,205.4 L513.6,212.4 L519,216 L518.6,207.8 Z" fill="#555" stroke="#1c1c1c" stroke-width="0.8" />
<ellipse cx="546" cy="205.4" rx="2" ry="0.9" fill="#fff" stroke="#1c1c1c" stroke-width="0.9" />
<polygon points="566.6,196 571.8,196 571.8,264 566.6,264" fill="#fff" stroke="#1c1c1c" stroke-width="1"/>
<path d="M565.6,195.6 L565.6,202 L572.8,202 L572.8,195.6 A3.6,1.3 0 0 0 565.6,195.6 Z" fill="#fff" stroke="#1c1c1c" stroke-width="1" />
<ellipse cx="569.2" cy="195.6" rx="3.6" ry="1.3" fill="#fff" stroke="#1c1c1c" stroke-width="1" />
<line x1="566.6" y1="212" x2="571.8" y2="212" stroke="#1c1c1c" stroke-width="0.9"/>
<line x1="566.6" y1="222" x2="571.8" y2="222" stroke="#1c1c1c" stroke-width="0.9"/>
<polygon points="561.8,232.4 564.6,232.4 564.6,255 561.8,255" fill="#fff" stroke="#1c1c1c" stroke-width="1"/>
<path d="M561,232.4 L573.6,229.6 L574.6,232 L562,235.4 Z" fill="#fff" stroke="#1c1c1c" stroke-width="1" />
<path d="M561,254.6 L573.6,251.8 L574.6,254.2 L562,257.6 Z" fill="#fff" stroke="#1c1c1c" stroke-width="1" />
<polygon points="536.5,268.8 580.2,266 581,316 536.5,317.6" fill="#fff" stroke="#1c1c1c" stroke-width="1.2"/>
<polygon points="564.6,274.4 576.4,273.8 576.4,280.4 564.6,281" fill="#fff" stroke="#1c1c1c" stroke-width="1.2"/>
<line x1="550.2" y1="288" x2="550.2" y2="299" stroke="#222" stroke-width="2"/>
<ellipse cx="550.2" cy="287" rx="1.2" ry="1.2" fill="#fff" stroke="#1c1c1c" stroke-width="0.9" />
<ellipse cx="550.2" cy="300.2" rx="1.2" ry="1.2" fill="#fff" stroke="#1c1c1c" stroke-width="0.9" />
<line x1="565.8" y1="288" x2="565.8" y2="299" stroke="#222" stroke-width="2"/>
<ellipse cx="565.8" cy="287" rx="1.2" ry="1.2" fill="#fff" stroke="#1c1c1c" stroke-width="0.9" />
<ellipse cx="565.8" cy="300.2" rx="1.2" ry="1.2" fill="#fff" stroke="#1c1c1c" stroke-width="0.9" />
<!-- right fence -->
<polygon points="662.5,384 673.4,374.5 673.4,488.4 662.5,486.4" fill="#fff" stroke="#1c1c1c" stroke-width="1.15"/>
<polygon points="673.4,374.5 679,369 679,484 673.4,488.4" fill="#fff" stroke="#1c1c1c" stroke-width="0"/>
<polyline points="673.4,374.5 679,369 679,484.5" fill="none" stroke="#1c1c1c" stroke-width="1.15"/>
<path d="M592.76,500.97 L670.06,433.77 A4.2,4.2 0 0 0 664.54,427.43 L587.24,494.63 " fill="#fff" stroke="#1c1c1c" stroke-width="1.15" />
<polygon points="581,455 592.6,445 592.6,560.4 581,557.6" fill="#fff" stroke="#1c1c1c" stroke-width="1.15"/>
<polygon points="592.6,445 597.8,440 597.8,555 592.6,560.4" fill="#fff" stroke="#1c1c1c" stroke-width="1.15"/>
<path d="M511.69,572.49 L589.09,505.19 A4.1,4.1 0 0 0 583.71,499.01 L506.31,566.31 " fill="#fff" stroke="#1c1c1c" stroke-width="1.15" />
<path d="M505,509 L669.9,362.7 Q675,359 679,363.5 Q680.6,366 679.2,369 L673.4,374.6 L516.6,513.2 Z" fill="#fff" stroke="#1c1c1c" stroke-width="0" />
<path d="M505,509 L669.9,362.7 Q675,359 679,363.5 Q680.6,366 679.2,369 L673.4,374.6 L516.6,513.2" fill="none" stroke="#1c1c1c" stroke-width="1.15" />
<path d="M499.7,631 L499.7,516 Q499.9,510.2 505.4,510 Q510.8,510.5 511,516.5 L511,632.5 Z" fill="#fff" stroke="#1c1c1c" stroke-width="1.15" />
<polygon points="511,516.5 516.6,513 516.6,626.6 511,632.5" fill="#fff" stroke="#1c1c1c" stroke-width="0"/>
<polyline points="511,516.5 516.6,513 516.6,626.6" fill="none" stroke="#1c1c1c" stroke-width="1.15"/>
<line x1="511" y1="516.5" x2="511" y2="632.3" stroke="#555" stroke-width="1"/>
<line x1="509.7" y1="632.3" x2="509.7" y2="713.3" stroke="#1c1c1c" stroke-width="1.15"/>
<!-- leaders -->
<polyline points="41.3,45.8 58,45.8 180,348" fill="none" stroke="#1c1c1c" stroke-width="1.1"/>
<polygon points="180,348 172.722,336.919 177.544,334.972" fill="#111" stroke="#1c1c1c" stroke-width="0.6"/>
<polyline points="140,45.8 162,45.8 263.7,264.2" fill="none" stroke="#1c1c1c" stroke-width="1.1"/>
<polygon points="263.7,264.2 255.855,253.513 260.569,251.318" fill="#111" stroke="#1c1c1c" stroke-width="0.6"/>
<polyline points="220.8,45.8 242,45.8 337.3,310" fill="none" stroke="#1c1c1c" stroke-width="1.1"/>
<polygon points="337.3,310 330.443,298.653 335.335,296.889" fill="#111" stroke="#1c1c1c" stroke-width="0.6"/>
<polyline points="303.1,45.8 325,45.8 388.6,233.4" fill="none" stroke="#1c1c1c" stroke-width="1.1"/>
<polygon points="388.6,233.4 381.964,221.923 386.888,220.253" fill="#111" stroke="#1c1c1c" stroke-width="0.6"/>
<polyline points="479.4,45.8 501.8,45.8 578.2,192.8" fill="none" stroke="#1c1c1c" stroke-width="1.1"/>
<polygon points="578.2,192.8 569.898,182.464 574.512,180.066" fill="#111" stroke="#1c1c1c" stroke-width="0.6"/>
<polyline points="541.5,45.8 562.6,45.8 631.2,281.2" fill="none" stroke="#1c1c1c" stroke-width="1.1"/>
<polygon points="631.2,281.2 625.067,269.447 630.059,267.992" fill="#111" stroke="#1c1c1c" stroke-width="0.6"/>
<text transform="translate(49,40.3) scale(1,1.1)" x="0" y="0" font-size="47" text-anchor="middle" stroke="#fff" stroke-width="0.35">1</text>
<text transform="translate(149.6,40.3) scale(1,1.1)" x="0" y="0" font-size="47" text-anchor="middle" stroke="#fff" stroke-width="0.35">2</text>
<text transform="translate(230.3,40.3) scale(1,1.1)" x="0" y="0" font-size="47" text-anchor="middle" stroke="#fff" stroke-width="0.35">3</text>
<text transform="translate(313.8,40.3) scale(1,1.1)" x="0" y="0" font-size="47" text-anchor="middle" stroke="#fff" stroke-width="0.35">4</text>
<text transform="translate(488.8,40.3) scale(1,1.1)" x="0" y="0" font-size="47" text-anchor="middle" stroke="#fff" stroke-width="0.35">5</text>
<text transform="translate(551,40.3) scale(1,1.1)" x="0" y="0" font-size="47" text-anchor="middle" stroke="#fff" stroke-width="0.35">6</text>
</svg>
</body>
</html>
